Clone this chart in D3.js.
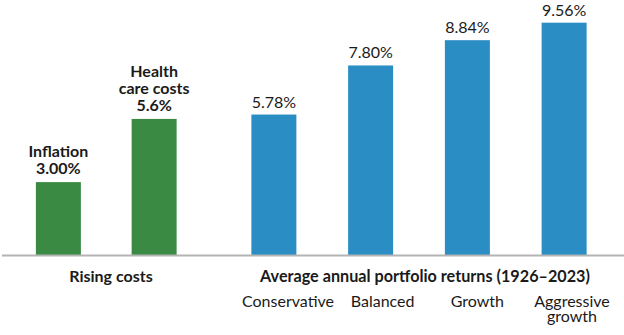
<!DOCTYPE html>
<html>
<head>
<meta charset="utf-8">
<script src="https://cdn.jsdelivr.net/npm/d3@7"></script>
<style>
    body { margin: 0; background: #fff; }
    text { font-family: Lato, "Open Sans", sans-serif; fill: #1a1a1a; }
</style>
</head>
<body>
<div id="chart"></div>
<script>
// rising costs (green)
let costNames = ["Inflation", "Health care costs"];
let costLabels = [["Inflation", "3.00%"], ["Health", "care costs", "5.6%"]];
let costValues = [3.00, 5.6];

// portfolio returns (blue)
let portfolioNames = ["Conservative", "Balanced", "Growth", "Aggressive growth"];
let portfolioLabels = [["Conservative"], ["Balanced"], ["Growth"], ["Aggressive", "growth"]];
let portfolioValues = [5.78, 7.80, 8.84, 9.56];

let groupTitles = ["Rising costs", "Average annual portfolio returns (1926\u20132023)"];

let width = 624, height = 335;

let svg = d3.select("#chart").append("svg")
    .attr("width", width)
    .attr("height", height);

// scales
let y = d3.scaleLinear()
    .domain([0, 10])
    .range([255, 12]);

let xCost = d3.scaleBand()
    .domain(costNames)
    .range([10.5, 202])
    .paddingInner(0.53)
    .paddingOuter(0.265);

let xPort = d3.scaleBand()
    .domain(portfolioNames)
    .range([225.5, 612.5])
    .paddingInner(0.535)
    .paddingOuter(0.2675);

// category labels sit on their own grid, a bit right of the bars
let xPortLabel = d3.scalePoint()
    .domain(portfolioNames)
    .range([288, 572]);

let costData = costNames.map((n, i) => ({name: n, value: costValues[i], label: costLabels[i]}));
let portData = portfolioNames.map((n, i) => ({name: n, value: portfolioValues[i], label: portfolioLabels[i]}));

// green bars
svg.selectAll(".cost-bar")
    .data(costData)
    .enter()
    .append("rect")
    .attr("class", "cost-bar")
    .attr("x", d => xCost(d.name))
    .attr("width", xCost.bandwidth())
    .attr("y", d => y(d.value))
    .attr("height", d => y(0) - y(d.value))
    .attr("fill", "#3a8a44");

// blue bars
svg.selectAll(".port-bar")
    .data(portData)
    .enter()
    .append("rect")
    .attr("class", "port-bar")
    .attr("x", d => xPort(d.name))
    .attr("width", xPort.bandwidth())
    .attr("y", d => y(d.value))
    .attr("height", d => y(0) - y(d.value))
    .attr("fill", "#2a8dc4");

// baseline
svg.append("line")
    .attr("x1", 2)
    .attr("x2", width)
    .attr("y1", y(0) + 0.5)
    .attr("y2", y(0) + 0.5)
    .attr("stroke", "#b4b4b4")
    .attr("stroke-width", 2);

// bold labels above green bars
let lineH = 17;
svg.selectAll(".cost-label")
    .data(costData)
    .enter()
    .append("text")
    .attr("class", "cost-label")
    .attr("text-anchor", "middle")
    .attr("font-weight", "bold")
    .attr("font-size", 16)
    .each(function (d) {
        let t = d3.select(this);
        let n = d.label.length;
        d.label.forEach((s, i) => {
            t.append("tspan")
                .attr("x", xCost(d.name) + xCost.bandwidth() / 2)
                .attr("y", y(d.value) - 8 - (n - 1 - i) * lineH)
                .text(s);
        });
    });

// value labels above blue bars
svg.selectAll(".port-value")
    .data(portData)
    .enter()
    .append("text")
    .attr("class", "port-value")
    .attr("text-anchor", "middle")
    .attr("font-size", 16)
    .attr("x", d => xPort(d.name) + xPort.bandwidth() / 2)
    .attr("y", d => y(d.value) - 7)
    .text(d => d.value.toFixed(2) + "%");

// group titles
svg.append("text")
    .attr("text-anchor", "middle")
    .attr("font-weight", "bold")
    .attr("font-size", 16)
    .attr("x", 111)
    .attr("y", 282)
    .text(groupTitles[0]);

svg.append("text")
    .attr("text-anchor", "middle")
    .attr("font-weight", "bold")
    .attr("font-size", 16.2)
    .attr("x", 425)
    .attr("y", 282)
    .text(groupTitles[1]);

// portfolio category names
svg.selectAll(".port-name")
    .data(portData)
    .enter()
    .append("text")
    .attr("class", "port-name")
    .attr("text-anchor", "middle")
    .attr("font-size", 16)
    .each(function (d) {
        let t = d3.select(this);
        d.label.forEach((s, i) => {
            t.append("tspan")
                .attr("x", xPortLabel(d.name))
                .attr("y", 307 + i * 14.5)
                .text(s);
        });
    });
</script>
</body>
</html>
